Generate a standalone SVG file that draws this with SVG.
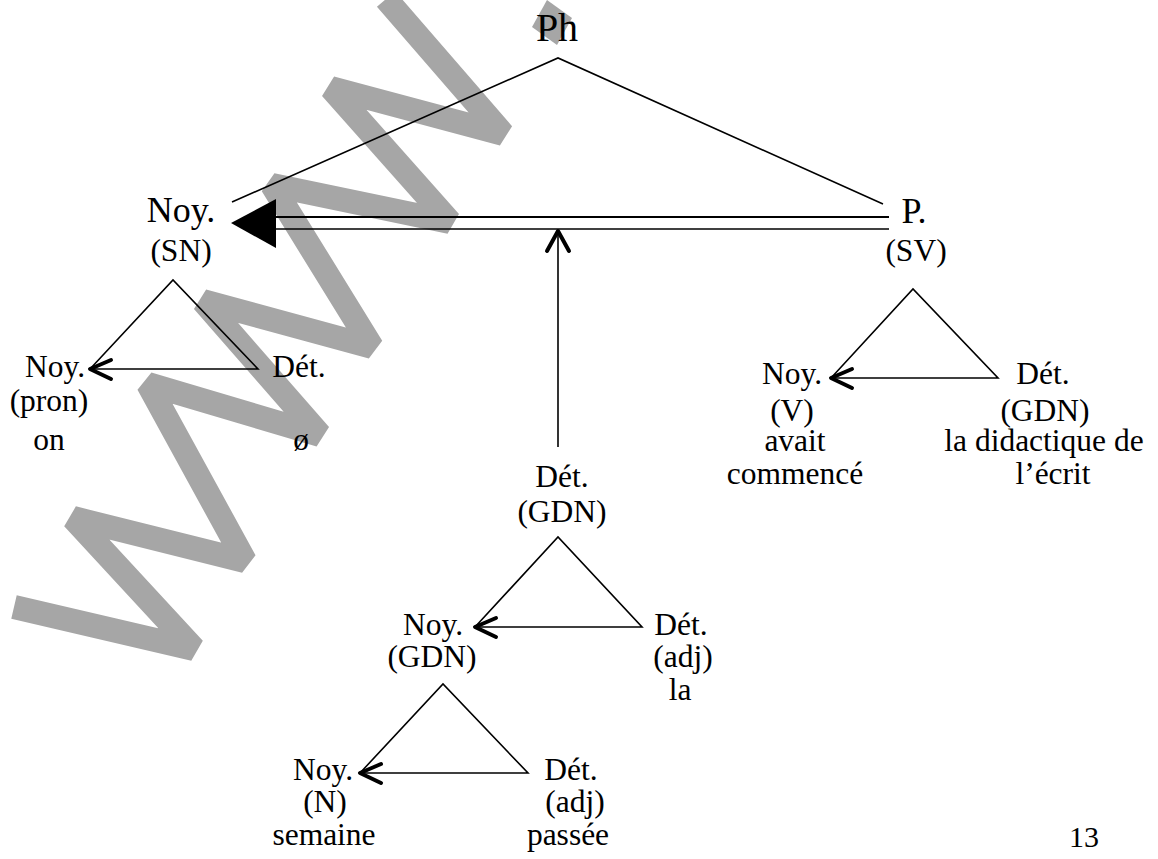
<svg xmlns="http://www.w3.org/2000/svg" width="1158" height="859" viewBox="0 0 1158 859">
  <style>
    text { font-family: "Liberation Serif", Tinos, "Times New Roman", serif; fill: #000; text-anchor: middle; font-size: 31.5px; }
    .big { font-size: 36px; }
    .root { font-size: 40px; }
    .page { font-size: 30px; }
    .line { fill: none; stroke: #000; stroke-width: 1.6; }
    .head { fill: none; stroke: #000; stroke-width: 4; stroke-linecap: round; stroke-linejoin: round; }
    .mark { fill: none; stroke: #a6a6a6; stroke-width: 24; stroke-linejoin: bevel; stroke-linecap: butt; }
  </style>

  <rect width="1158" height="859" fill="#fff"/>

  <!-- background watermark -->
  <g id="watermark">
    <polyline class="mark" points="386,-1 503,134 331,88 450,222 272,185 372,347 203,301 320,435 148,384 245,561 73,518 194,649 14,607"/>
    <polygon points="532,27 547,0 572,18 557,45" fill="#a6a6a6"/>
  </g>

  <!-- connectors -->
  <g id="connectors">
    <!-- Ph to Noy. / P. -->
    <polyline class="line" points="232,202 558,58 883,204"/>
    <!-- double line P. to Noy. -->
    <line x1="270" y1="217" x2="889" y2="217" stroke="#000" stroke-width="2"/>
    <line x1="270" y1="229" x2="889" y2="229" stroke="#000" stroke-width="1.5"/>
    <polygon points="231,223 276,199 276,248" fill="#000"/>
    <!-- Dét. (GDN) up to the double line -->
    <line class="line" x1="558" y1="447" x2="558" y2="232" stroke-width="2"/>
    <polyline class="head" points="547,251 558,231 569,251"/>

    <!-- SN triangle -->
    <polyline class="line" points="90,369 173,280 258,369 90,369"/>
    <polyline class="head" points="111,360 90,369 111,379"/>
    <!-- SV triangle -->
    <polyline class="line" points="831,378 913,289 998,378 831,378"/>
    <polyline class="head" points="852,369 831,378 852,388"/>
    <!-- GDN triangle -->
    <polyline class="line" points="475,627 558,537 642,627 475,627"/>
    <polyline class="head" points="496,618 475,627 496,637"/>
    <!-- lower GDN triangle -->
    <polyline class="line" points="360,773 443,684 528,773 360,773"/>
    <polyline class="head" points="381,764 360,773 381,783"/>
  </g>

  <!-- nodes -->
  <g id="ph"><text class="root" x="557" y="41">Ph</text></g>

  <g id="noy-sn">
    <text class="big" x="181" y="222">Noy.</text>
    <text x="181" y="261">(SN)</text>
  </g>

  <g id="p-sv">
    <text class="big" x="914" y="223">P.</text>
    <text x="916" y="261">(SV)</text>
  </g>

  <g id="noy-pron">
    <text x="55" y="377">Noy.</text>
    <text x="49" y="411">(pron)</text>
    <text x="49" y="450">on</text>
  </g>

  <g id="det-empty">
    <text x="299" y="377">Dét.</text>
    <text x="301" y="450">ø</text>
  </g>

  <g id="noy-v">
    <text x="792" y="384">Noy.</text>
    <text x="792" y="421">(V)</text>
    <text x="795" y="451">avait</text>
    <text x="795" y="484">commencé</text>
  </g>

  <g id="det-gdn-right">
    <text x="1043" y="384">Dét.</text>
    <text x="1045" y="421">(GDN)</text>
    <text x="1044" y="451">la didactique de</text>
    <text x="1053" y="484">l’écrit</text>
  </g>

  <g id="det-gdn-mid">
    <text x="562" y="487">Dét.</text>
    <text x="562" y="522">(GDN)</text>
  </g>

  <g id="noy-gdn">
    <text x="433" y="635">Noy.</text>
    <text x="432" y="667">(GDN)</text>
  </g>

  <g id="det-adj-la">
    <text x="681" y="635">Dét.</text>
    <text x="683" y="667">(adj)</text>
    <text x="680" y="700">la</text>
  </g>

  <g id="noy-n">
    <text x="323" y="780">Noy.</text>
    <text x="325" y="812">(N)</text>
    <text x="324" y="845">semaine</text>
  </g>

  <g id="det-adj-passee">
    <text x="571" y="780">Dét.</text>
    <text x="575" y="812">(adj)</text>
    <text x="568" y="845">passée</text>
  </g>

  <g id="page-number"><text class="page" x="1084" y="847">13</text></g>
</svg>
